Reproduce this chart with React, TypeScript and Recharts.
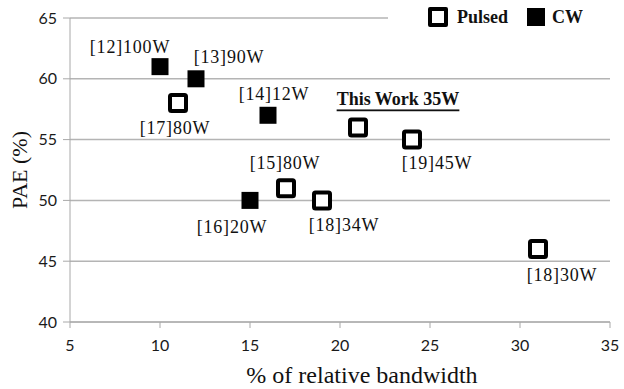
import React from "react";
import {
  CartesianGrid,
  Legend,
  Scatter,
  ScatterChart,
  XAxis,
  YAxis,
} from "recharts";

const pulsedBandwidth = [11, 17, 19, 21, 24, 31];
const pulsedPae = [58, 51, 50, 56, 55, 46];
const pulsedLabels = ["[17]80W", "[15]80W", "[18]34W", "This Work 35W", "[19]45W", "[18]30W"];

const cwBandwidth = [10, 12, 16, 15];
const cwPae = [61, 60, 57, 50];
const cwLabels = ["[12]100W", "[13]90W", "[14]12W", "[16]20W"];

const xTicks = [5, 10, 15, 20, 25, 30, 35];
const yTicks = [40, 45, 50, 55, 60, 65];

// where each annotation sits relative to its marker (px)
const labelOffset: Record<string, [number, number]> = {
  "[12]100W": [-30, -20],
  "[13]90W": [33, -22],
  "[17]80W": [-3, 25],
  "[14]12W": [6, -21],
  "[15]80W": [-1, -25],
  "[16]20W": [-18, 27],
  "[18]34W": [22, 25],
  "This Work 35W": [40, -28],
  "[19]45W": [25, 23],
  "[18]30W": [24, 26],
};

const pulsed = pulsedBandwidth.map((x, i) => ({ x, y: pulsedPae[i], label: pulsedLabels[i] }));
const cw = cwBandwidth.map((x, i) => ({ x, y: cwPae[i], label: cwLabels[i] }));

const serif = "'Liberation Serif', 'Times New Roman', serif";
const sans = "Lato, 'Open Sans', sans-serif";

function PointLabel({ cx, cy, label }: { cx: number; cy: number; label: string }) {
  const [dx, dy] = labelOffset[label] ?? [0, -20];
  const isOurs = label.startsWith("This Work");
  return (
    <text
      x={cx + dx}
      y={cy + dy}
      textAnchor="middle"
      dominantBaseline="central"
      fontFamily={serif}
      fontSize={18}
      fontWeight={isOurs ? "bold" : "normal"}
      letterSpacing={isOurs ? 0 : 0.8}
      fill="#111"
      style={isOurs ? { textDecoration: "underline" } : undefined}
    >
      {label}
    </text>
  );
}

function OpenSquare(props: any) {
  const { cx, cy, payload } = props;
  return (
    <g>
      <rect x={cx - 8} y={cy - 8} width={16} height={16} fill="#fff" stroke="#000" strokeWidth={4} rx={1.5} />
      <PointLabel cx={cx} cy={cy} label={payload.label} />
    </g>
  );
}

function FilledSquare(props: any) {
  const { cx, cy, payload } = props;
  return (
    <g>
      <rect x={cx - 8.5} y={cy - 8.5} width={17} height={17} fill="#000" />
      <PointLabel cx={cx} cy={cy} label={payload.label} />
    </g>
  );
}

function LegendBox() {
  return (
    <div
      style={{
        background: "#fff",
        height: 26,
        display: "flex",
        alignItems: "center",
        fontFamily: serif,
        fontWeight: "bold",
        fontSize: 18,
        color: "#111",
      }}
    >
      <span style={{ width: 12, height: 12, border: "4px solid #000", borderRadius: 2, marginLeft: 40 }} />
      <span style={{ marginLeft: 9 }}>Pulsed</span>
      <span style={{ width: 18, height: 18, background: "#000", marginLeft: 19 }} />
      <span style={{ marginLeft: 7 }}>CW</span>
    </div>
  );
}

function XTitle({ viewBox }: any) {
  const { x, y, width } = viewBox;
  return (
    <text x={x + width / 2 + 22} y={y + 53} textAnchor="middle" dominantBaseline="central" fontFamily={serif} fontSize={24} fill="#111">
      % of relative bandwidth
    </text>
  );
}

function YTitle({ viewBox }: any) {
  const { y, height } = viewBox;
  const cx = 19;
  const cy = y + height / 2;
  return (
    <text
      x={cx}
      y={cy}
      transform={`rotate(-90 ${cx} ${cy})`}
      textAnchor="middle"
      dominantBaseline="central"
      fontFamily={serif}
      fontSize={22}
      fill="#111"
    >
      PAE (%)
    </text>
  );
}

export default function App() {
  return (
    <div style={{ width: 624, height: 389, background: "#fff" }}>
      <style>{"body{margin:0}"}</style>
      <ScatterChart width={624} height={389} margin={{ top: 18, right: 14, bottom: 0, left: 0 }}>
        <CartesianGrid vertical={false} stroke="#b4b4b4" strokeWidth={1.5} />
        <XAxis
          type="number"
          dataKey="x"
          domain={[5, 35]}
          ticks={xTicks}
          height={67}
          stroke="#a8a8a8"
          tickSize={6}
          tickMargin={12}
          tick={{ fill: "#1a1a1a", fontFamily: sans, fontSize: 16 }}
          label={<XTitle />}
        />
        <YAxis
          type="number"
          dataKey="y"
          domain={[40, 65]}
          ticks={yTicks}
          width={70}
          stroke="#a8a8a8"
          tickSize={7}
          tickMargin={6}
          tick={{ fill: "#1a1a1a", fontFamily: sans, fontSize: 16 }}
          label={<YTitle />}
        />
        <Legend
          content={() => <LegendBox />}
          wrapperStyle={{ position: "absolute", top: 4, left: 388, width: 224, height: 0, overflow: "visible" }}
        />
        <Scatter name="Pulsed" data={pulsed} shape={OpenSquare} isAnimationActive={false} />
        <Scatter name="CW" data={cw} shape={FilledSquare} isAnimationActive={false} />
      </ScatterChart>
    </div>
  );
}
